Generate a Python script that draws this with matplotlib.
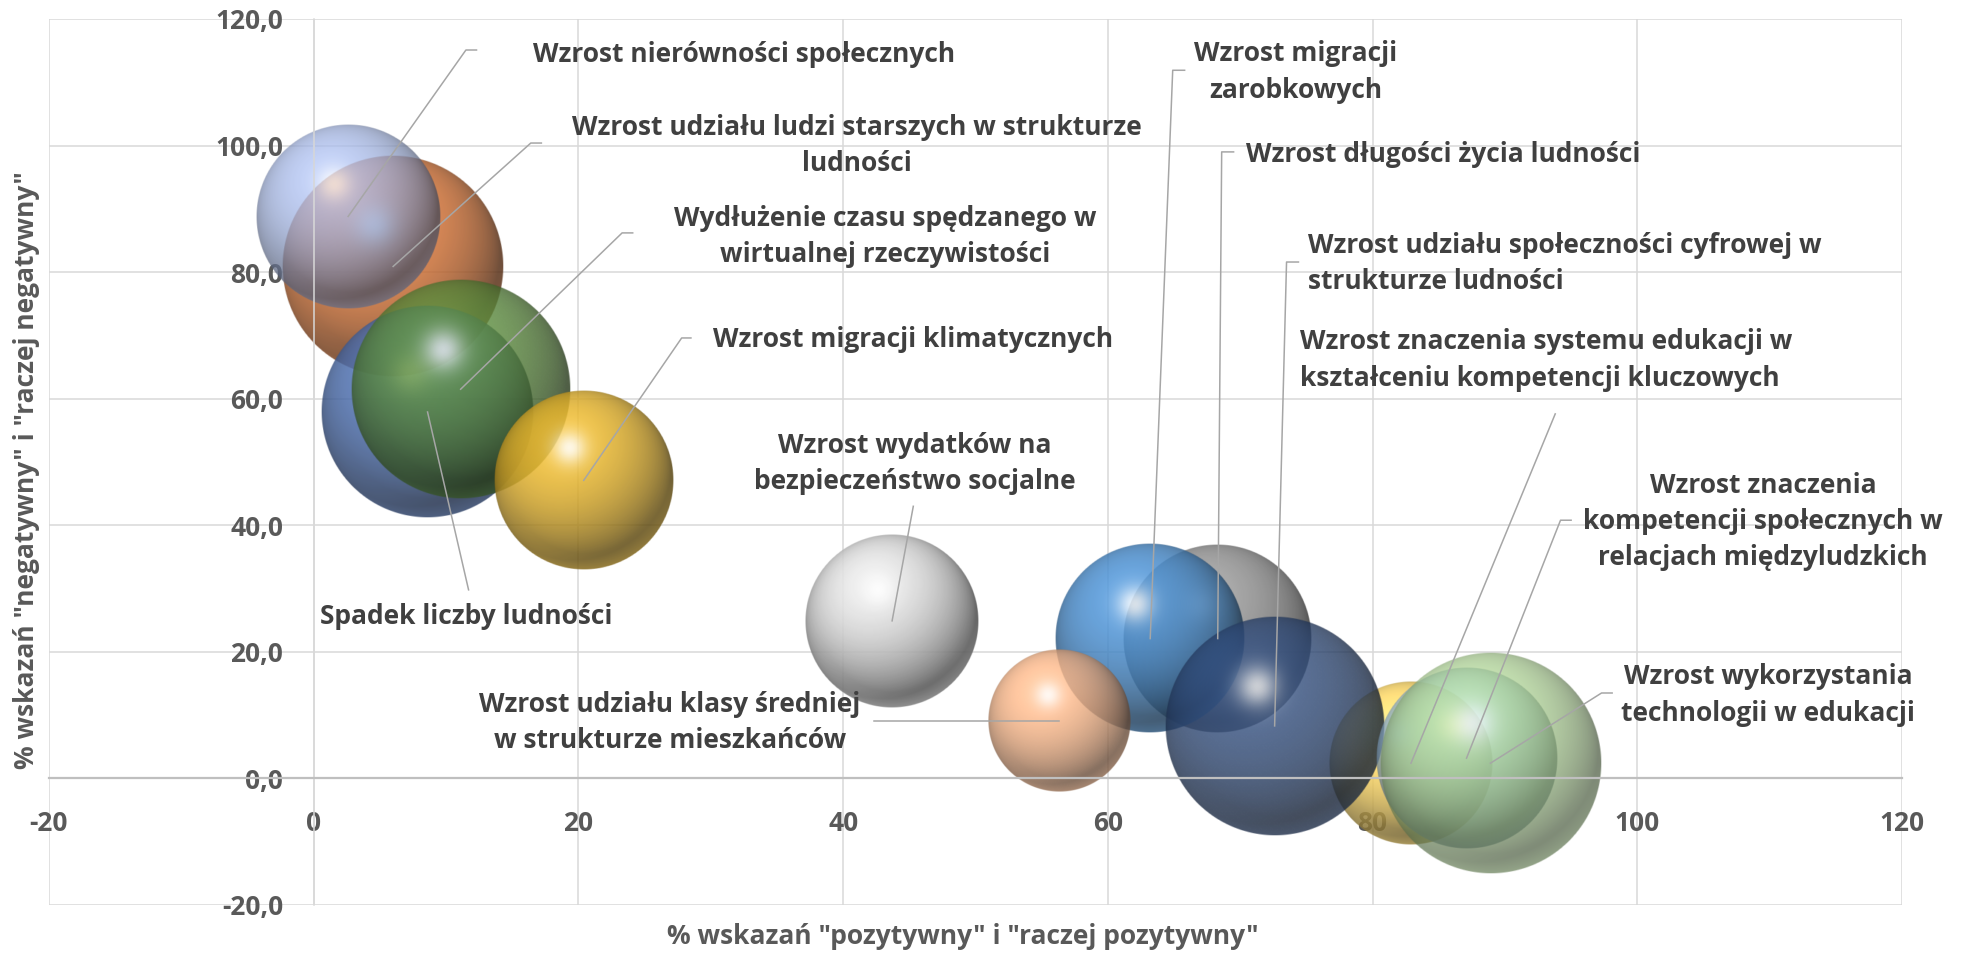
import numpy as np
import matplotlib
matplotlib.use("Agg")
import matplotlib.pyplot as plt
from matplotlib import font_manager as fm
from matplotlib.colors import to_rgb

names = {f.name for f in fm.fontManager.ttflist}
FONT = next(f for f in ["Open Sans", "Lato", "Liberation Sans", "DejaVu Sans"] if f in names)
plt.rcParams.update({"font.family": [FONT, "DejaVu Sans"], "font.weight": "bold"})
INK = "#404040"; AXC = "#595959"; GRID = "#D9D9D9"; LEAD = "#A6A6A6"
FS = 19

# ---------------------------------------------------------------
# data: % positive (x), % negative (y), bubble size
# ---------------------------------------------------------------
labels = [
    "Wzrost nierówności społecznych",
    "Wzrost udziału ludzi starszych w strukturze\nludności",
    "Wydłużenie czasu spędzanego w\nwirtualnej rzeczywistości",
    "Spadek liczby ludności",
    "Wzrost migracji klimatycznych",
    "Wzrost wydatków na\nbezpieczeństwo socjalne",
    "Wzrost udziału klasy średniej\nw strukturze mieszkańców",
    "Wzrost migracji\nzarobkowych",
    "Wzrost długości życia ludności",
    "Wzrost udziału społeczności cyfrowej w\nstrukturze ludności",
    "Wzrost znaczenia systemu edukacji w\nkształceniu kompetencji kluczowych",
    "Wzrost znaczenia\nkompetencji społecznych w\nrelacjach międzyludzkich",
    "Wzrost wykorzystania\ntechnologii w edukacji",
]
pos_pct = [2.6, 6.0, 11.1, 8.6, 20.4, 43.7, 56.3, 63.2, 68.3, 72.6, 82.9, 87.1, 88.9]
neg_pct = [88.8, 80.9, 61.5, 57.9, 47.1, 24.9, 9.1, 22.1, 22.1, 8.3, 2.4, 3.2, 2.4]
bubble = [85.6, 123.2, 121.0, 113.4, 81.0, 75.7, 51.1, 90.3, 89.3, 121.0, 67.2, 82.8, 123.2]

colors = ["#A2B4E2", "#D9773A", "#5A8A3C", "#4E70B0", "#E0B02C", "#D9D9D9", "#F4B183",
          "#4A8CCB", "#929292", "#2F4A78", "#FFD966", "#9DC3E6", "#A9D18E"]
alphas = [0.75, 0.85, 0.8, 0.85, 0.85, 0.9, 0.8, 0.85, 0.85, 0.8, 0.85, 0.75, 0.7]
draw_order = [1, 0, 3, 2, 4, 5, 8, 7, 6, 10, 9, 11, 12]

# label layout: leader-line bend points and text anchors (data units)
leader = [
    [(11.5, 115.1), (12.3, 115.1)],
    [(16.4, 100.4), (17.2, 100.4)],
    [(23.3, 86.2), (24.1, 86.2)],
    [(11.7, 29.8)],
    [(27.8, 69.6), (28.5, 69.6)],
    [(45.3, 43.0)],
    [(42.3, 9.1)],
    [(64.9, 111.9), (65.8, 111.9)],
    [(68.6, 99.0), (69.5, 99.0)],
    [(73.5, 81.6), (74.4, 81.6)],
    [(93.8, 57.6)],
    [(94.2, 40.8), (95.0, 40.8)],
    [(97.3, 13.5), (98.1, 13.5)],
]
text_at = [(16.6, 114.4, "left"), (41.0, 100.0, "center"), (43.2, 85.6, "center"),
           (0.5, 25.6, "left"), (30.2, 69.3, "left"), (45.4, 49.8, "center"),
           (26.9, 8.8, "center"), (74.2, 111.6, "center"), (70.4, 98.6, "left"),
           (75.1, 81.4, "left"), (74.5, 66.1, "left"), (109.5, 40.6, "center"),
           (109.9, 13.2, "center")]


def sphere(color, alpha, n=300):
    u, v = np.meshgrid(np.linspace(-1, 1, n), np.linspace(-1, 1, n))
    d = np.sqrt(u**2 + v**2)
    z = np.sqrt(np.clip(1 - d**2, 0, 1))
    L = np.array([-0.25, 0.45, 0.86]); L /= np.linalg.norm(L)
    diff = np.clip(u*L[0] + v*L[1] + z*L[2], 0, 1)
    base = np.array(to_rgb(color))
    rgb = base[None, None, :] * (0.4 + 0.7*diff)[..., None]
    spec = 0.85*np.exp(-((u + 0.16)**2 + (v - 0.36)**2)/(2*0.13**2))
    rgb = rgb*(1 - spec[..., None]) + spec[..., None]
    rim = np.clip((d - 0.82)/0.18, 0, 1)*np.clip(-v, 0, 1)*0.35
    rgb = rgb*(1 - rim[..., None]) + base*rim[..., None]
    rgb = np.clip(rgb, 0, 1)
    a = alpha*np.clip((1 - d)*n/2, 0, 1)
    return np.dstack([rgb, a])


fig = plt.figure(figsize=(19.62, 9.6), dpi=100)
ax = fig.add_axes([49/1962, 1 - 905/960, (1902 - 49)/1962, (905 - 19)/960])
ax.set_xlim(-20, 120); ax.set_ylim(-20, 120)
ticks = np.arange(-20, 121, 20)
ax.set_xticks(ticks); ax.set_yticks(ticks)
ax.set_xticklabels([f"{t}" for t in ticks])
ax.set_yticklabels([f"{t:.1f}".replace(".", ",") for t in ticks])
ax.grid(True, color=GRID, lw=1.1, zorder=0)
ax.set_axisbelow(True)
for s in ["top", "right"]:
    ax.spines[s].set_visible(False)
ax.spines["left"].set_position(("data", 0)); ax.spines["left"].set_color(GRID); ax.spines["left"].set_linewidth(1.1)
ax.spines["bottom"].set_position(("data", 0)); ax.spines["bottom"].set_color("#BFBFBF"); ax.spines["bottom"].set_linewidth(1.6)
ax.tick_params(length=0, labelsize=FS, labelcolor=AXC)
ax.tick_params(axis="x", pad=23)
ax.tick_params(axis="y", pad=22)

# bubble radius: largest = 25% of the shorter plot side (diameter)
bb = ax.get_window_extent()
rmax = 0.25*min(bb.width, bb.height)/2
smax = max(bubble)
for z, i in enumerate(draw_order):
    r = rmax*np.sqrt(bubble[i]/smax)
    rx = r*140/bb.width; ry = r*140/bb.height
    x, y = pos_pct[i], neg_pct[i]
    ax.imshow(sphere(colors[i], alphas[i]), extent=[x - rx, x + rx, y - ry, y + ry],
              origin="lower", interpolation="bilinear", aspect="auto", zorder=2 + z*0.01)
ax.set_xlim(-20, 120); ax.set_ylim(-20, 120)

for i, lab in enumerate(labels):
    pts = [(pos_pct[i], neg_pct[i])] + leader[i]
    ax.plot([p[0] for p in pts], [p[1] for p in pts], color=LEAD, lw=1.1, zorder=5)
    tx, ty, ha = text_at[i]
    ax.text(tx, ty, lab, ha=ha, va="center", multialignment=ha, fontsize=FS,
            color=INK, linespacing=1.45, zorder=6)

fig.text(963/1962, 1 - 936/960, "% wskazań \"pozytywny\" i \"raczej pozytywny\"",
         ha="center", va="center", fontsize=FS, color=AXC)
fig.text(27/1962, 1 - 470/960, "% wskazań \"negatywny\" i \"raczej negatywny\"",
         ha="center", va="center", rotation=90, fontsize=FS, color=AXC)

fig.savefig("out.png", dpi=100)
